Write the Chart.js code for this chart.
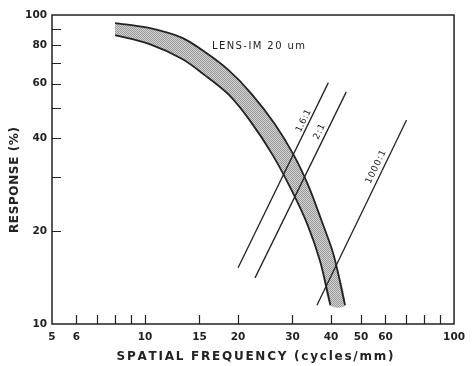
<!DOCTYPE html>
<html>
<head>
<meta charset="utf-8">
<script src="https://cdn.jsdelivr.net/npm/chart.js@4.4.1/dist/chart.umd.min.js"></script>
<style>
  html, body { margin: 0; padding: 0; background: #fff; }
  #wrap { width: 472px; height: 366px; }
</style>
</head>
<body>
<div id="wrap"><canvas id="mtfChart" width="472" height="366"></canvas></div>
<script>
// ---- values ----
const xTickValues = [5, 6, 7, 8, 9, 10, 15, 20, 30, 40, 50, 60, 70, 80, 90, 100];
const xTickLabels = ['5', '6', '', '', '', '10', '15', '20', '30', '40', '50', '60', '', '', '', '100'];
const yTickValues = [10, 20, 30, 40, 50, 60, 70, 80, 90, 100];
const yTickLabels = ['10', '20', '', '40', '', '60', '', '80', '', '100'];

// LENS-IM 20 um band: outer (upper) and inner (lower) edge
const bandUpperFreq = [8.0, 10.3, 13.2, 15.8, 18.6, 22.0, 26.3, 30.3, 33.9, 37.2, 40.8, 44.4];
const bandUpperResp = [94.2, 90.8, 84.3, 75.3, 66.4, 55.9, 44.4, 35.2, 27.8, 21.7, 16.7, 11.5];
const bandLowerFreq = [8.0, 10.3, 13.2, 15.6, 18.7, 22.0, 25.9, 29.8, 33.6, 36.9, 39.8];
const bandLowerResp = [86.1, 80.6, 72.0, 63.9, 55.1, 45.1, 35.2, 27.1, 20.9, 15.9, 11.5];

// threshold lines for the contrast ratios
const ratioNames = ['1.6:1', '2:1', '1000:1'];
const ratioFreq = [[20.0, 39.2], [22.7, 44.8], [36.0, 70.2]];
const ratioResp = [[15.2, 60.4], [14.1, 56.4], [11.5, 45.7]];

const lensLabel = 'LENS-IM 20 um';
const xTitle = 'SPATIAL FREQUENCY (cycles/mm)';
const yTitle = 'RESPONSE (%)';

// ---- helpers ----
const INK = '#222';
const FONT = '"DejaVu Sans", "Liberation Sans", sans-serif';

const toPoints = (xs, ys) => xs.map((x, i) => ({ x: x, y: ys[i] }));

function stipple() {
    const c = document.createElement('canvas');
    c.width = 2; c.height = 2;
    const g = c.getContext('2d');
    g.fillStyle = '#d2d2d2';
    g.fillRect(0, 0, 2, 2);
    g.fillStyle = '#9a9a9a';
    g.fillRect(0, 0, 1, 1);
    g.fillRect(1, 1, 1, 1);
    return g.createPattern(c, 'repeat');
}

// draw text centred on (cx, cy), spread out to a given width
function spacedText(ctx, text, cx, cy, width) {
    const chars = [...text];
    const widths = chars.map(c => ctx.measureText(c).width);
    const natural = widths.reduce((a, b) => a + b, 0);
    const gap = chars.length > 1 ? (width - natural) / (chars.length - 1) : 0;
    let x = cx - width / 2;
    ctx.textAlign = 'left';
    ctx.textBaseline = 'middle';
    chars.forEach((c, i) => {
        ctx.fillText(c, x, cy);
        x += widths[i] + gap;
    });
}

// where the ratio labels sit along their line (fraction, offset px, text width)
const ratioLabelPos = [[0.78, 5.5, 24], [0.77, 6.5, 16], [0.73, 7, 36]];

const decorPlugin = {
    id: 'decor',
    afterDatasetsDraw(chart) {
        const ctx = chart.ctx;
        const area = chart.chartArea;
        const xs = chart.scales.x;
        const ys = chart.scales.y;
        ctx.save();
        ctx.strokeStyle = INK;
        ctx.fillStyle = INK;

        // frame
        ctx.lineWidth = 1.5;
        ctx.strokeRect(area.left, area.top, area.right - area.left, area.bottom - area.top);

        // inward tick marks
        ctx.lineWidth = 1.2;
        ctx.beginPath();
        xTickValues.slice(1, -1).forEach(v => {
            const px = Math.round(xs.getPixelForValue(v)) + 0.5;
            ctx.moveTo(px, area.bottom);
            ctx.lineTo(px, area.bottom - 9);
        });
        yTickValues.slice(1, -1).forEach(v => {
            const py = Math.round(ys.getPixelForValue(v)) + 0.5;
            ctx.moveTo(area.left, py);
            ctx.lineTo(area.left + 9, py);
        });
        ctx.stroke();

        // axis titles
        ctx.font = 'bold 12px ' + FONT;
        spacedText(ctx, xTitle, 255, 357, 277);
        ctx.save();
        ctx.translate(15, 180);
        ctx.rotate(-Math.PI / 2);
        spacedText(ctx, yTitle, 0, 0, 106);
        ctx.restore();

        // band label
        ctx.font = '10px ' + FONT;
        spacedText(ctx, lensLabel, 258.5, 46, 93);

        // ratio labels along their lines
        ctx.font = '9px ' + FONT;
        ratioNames.forEach((name, i) => {
            const meta = chart.getDatasetMeta(3 + i);
            const p0 = meta.data[0], p1 = meta.data[1];
            const dx = p1.x - p0.x, dy = p1.y - p0.y;
            const len = Math.hypot(dx, dy);
            const [t, off, w] = ratioLabelPos[i];
            const px = p0.x + dx * t + (dy / len) * off;
            const py = p0.y + dy * t + (-dx / len) * off;
            ctx.save();
            ctx.translate(px, py);
            ctx.rotate(Math.atan2(dy, dx));
            spacedText(ctx, name, 0, 0, w);
            ctx.restore();
        });
        ctx.restore();
    }
};

const upperPts = toPoints(bandUpperFreq, bandUpperResp);
const lowerPts = toPoints(bandLowerFreq, bandLowerResp);

const datasets = [
    {
        // closed band shape
        data: upperPts.concat(lowerPts.slice().reverse()),
        showLine: true,
        fill: 'shape',
        backgroundColor: stipple(),
        borderWidth: 0,
        pointRadius: 0,
        tension: 0.3,
        order: 10
    },
    { data: upperPts, showLine: true, borderColor: INK, borderWidth: 1.8, pointRadius: 0, tension: 0.3, order: 1 },
    { data: lowerPts, showLine: true, borderColor: INK, borderWidth: 1.8, pointRadius: 0, tension: 0.3, order: 1 }
];
ratioNames.forEach((name, i) => {
    datasets.push({
        label: name,
        data: toPoints(ratioFreq[i], ratioResp[i]),
        showLine: true,
        borderColor: INK,
        borderWidth: 1.3,
        pointRadius: 0,
        order: 0
    });
});

new Chart(document.getElementById('mtfChart'), {
    type: 'scatter',
    data: { datasets: datasets },
    options: {
        responsive: false,
        animation: false,
        events: [],
        layout: { padding: { top: 15, right: 14, left: 0, bottom: 0 } },
        plugins: {
            legend: { display: false },
            tooltip: { enabled: false }
        },
        scales: {
            x: {
                type: 'logarithmic',
                min: 5,
                max: 100,
                grid: { display: false, drawTicks: false },
                border: { display: false },
                afterBuildTicks: (scale) => { scale.ticks = xTickValues.map(v => ({ value: v })); },
                afterFit: (scale) => { scale.height = 42; },
                ticks: {
                    autoSkip: false,
                    maxRotation: 0,
                    padding: 7,
                    color: INK,
                    font: { family: FONT, size: 10.5, weight: 'bold' },
                    callback: (value, index) => xTickLabels[index]
                }
            },
            y: {
                type: 'logarithmic',
                min: 10,
                max: 100,
                grid: { display: false, drawTicks: false },
                border: { display: false },
                afterBuildTicks: (scale) => { scale.ticks = yTickValues.map(v => ({ value: v })); },
                afterFit: (scale) => { scale.width = 52; },
                ticks: {
                    autoSkip: false,
                    padding: 5,
                    color: INK,
                    font: { family: FONT, size: 10.5, weight: 'bold' },
                    callback: (value, index) => yTickLabels[index]
                }
            }
        }
    },
    plugins: [decorPlugin]
});
</script>
</body>
</html>
